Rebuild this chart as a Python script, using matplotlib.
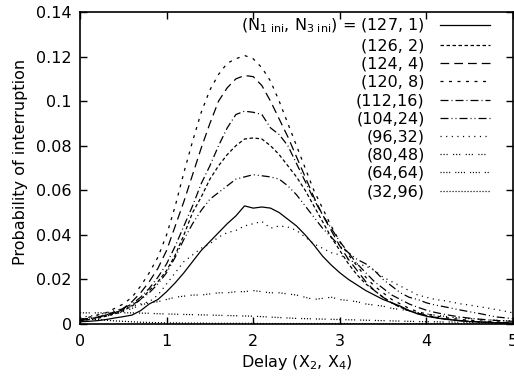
import numpy as np
import matplotlib
matplotlib.use("Agg")
import matplotlib.pyplot as plt

plt.rcParams['font.family'] = ['DejaVu Sans']
plt.rcParams['mathtext.fontset'] = 'dejavusans'

FS = 11.5

delay = np.round(np.arange(0, 5.01, 0.1), 1)

labels = ["(N$_{1\\ \\mathrm{ini}}$, N$_{3\\ \\mathrm{ini}}$) = (127, 1)", "(126, 2)", "(124, 4)", "(120, 8)",
          "(112,16)", "(104,24)", "(96,32)", "(80,48)", "(64,64)", "(32,96)"]

p127_1 = [0.0010, 0.0012, 0.0015, 0.0020, 0.0027, 0.0033, 0.0040, 0.0060, 0.0090, 0.0110,
          0.0145, 0.0185, 0.0230, 0.0280, 0.0330, 0.0370, 0.0410, 0.0450, 0.0485, 0.0530,
          0.0520, 0.0525, 0.0520, 0.0500, 0.0470, 0.0440, 0.0400, 0.0355, 0.0305, 0.0265,
          0.0230, 0.0200, 0.0175, 0.0150, 0.0130, 0.0110, 0.0095, 0.0080, 0.0060, 0.0045,
          0.0035, 0.0028, 0.0022, 0.0018, 0.0014, 0.0011, 0.0009, 0.0007, 0.0005, 0.0004, 0.0003]
p126_2 = [0.0015, 0.0020, 0.0025, 0.0035, 0.0045, 0.0060, 0.0080, 0.0110, 0.0150, 0.0190,
          0.0240, 0.0310, 0.0400, 0.0500, 0.0570, 0.0650, 0.0710, 0.0760, 0.0800, 0.0830,
          0.0835, 0.0830, 0.0800, 0.0760, 0.0710, 0.0660, 0.0600, 0.0530, 0.0460, 0.0390,
          0.0330, 0.0270, 0.0220, 0.0180, 0.0150, 0.0120, 0.0095, 0.0075, 0.0060, 0.0048,
          0.0038, 0.0030, 0.0024, 0.0019, 0.0015, 0.0012, 0.0010, 0.0008, 0.0006, 0.0005, 0.0004]
p124_4 = [0.0015, 0.0020, 0.0030, 0.0040, 0.0055, 0.0070, 0.0100, 0.0140, 0.0190, 0.0250,
          0.0330, 0.0440, 0.0550, 0.0670, 0.0790, 0.0900, 0.1000, 0.1060, 0.1100, 0.1115,
          0.1110, 0.1070, 0.1000, 0.0920, 0.0840, 0.0750, 0.0660, 0.0570, 0.0490, 0.0420,
          0.0350, 0.0290, 0.0240, 0.0190, 0.0150, 0.0120, 0.0095, 0.0075, 0.0060, 0.0048,
          0.0038, 0.0030, 0.0024, 0.0019, 0.0015, 0.0012, 0.0010, 0.0008, 0.0007, 0.0006, 0.0005]
p120_8 = [0.0020, 0.0030, 0.0040, 0.0050, 0.0070, 0.0090, 0.0120, 0.0170, 0.0230, 0.0300,
          0.0400, 0.0530, 0.0680, 0.0820, 0.0950, 0.1050, 0.1120, 0.1170, 0.1190, 0.1205,
          0.1190, 0.1150, 0.1090, 0.1000, 0.0900, 0.0800, 0.0700, 0.0600, 0.0520, 0.0440,
          0.0370, 0.0310, 0.0260, 0.0210, 0.0170, 0.0140, 0.0110, 0.0090, 0.0070, 0.0055,
          0.0045, 0.0037, 0.0030, 0.0025, 0.0020, 0.0017, 0.0014, 0.0012, 0.0010, 0.0008, 0.0007]
p112_16 = [0.0020, 0.0025, 0.0030, 0.0040, 0.0050, 0.0070, 0.0090, 0.0120, 0.0160, 0.0210,
           0.0270, 0.0350, 0.0440, 0.0530, 0.0630, 0.0710, 0.0800, 0.0880, 0.0940, 0.0955,
           0.0950, 0.0940, 0.0880, 0.0850, 0.0800, 0.0720, 0.0640, 0.0560, 0.0490, 0.0430,
           0.0370, 0.0320, 0.0270, 0.0230, 0.0190, 0.0160, 0.0130, 0.0110, 0.0090, 0.0075,
           0.0062, 0.0052, 0.0044, 0.0037, 0.0031, 0.0026, 0.0022, 0.0019, 0.0016, 0.0014, 0.0012]
p104_24 = [0.0020, 0.0025, 0.0030, 0.0040, 0.0050, 0.0065, 0.0085, 0.0110, 0.0140, 0.0180,
           0.0230, 0.0300, 0.0380, 0.0450, 0.0510, 0.0560, 0.0590, 0.0620, 0.0650, 0.0660,
           0.0670, 0.0665, 0.0660, 0.0650, 0.0620, 0.0580, 0.0530, 0.0480, 0.0430, 0.0390,
           0.0350, 0.0320, 0.0290, 0.0270, 0.0240, 0.0200, 0.0170, 0.0140, 0.0120, 0.0110,
           0.0095, 0.0085, 0.0078, 0.0070, 0.0062, 0.0055, 0.0048, 0.0040, 0.0032, 0.0028, 0.0024]
p96_32 = [0.0030, 0.0035, 0.0040, 0.0050, 0.0060, 0.0070, 0.0080, 0.0090, 0.0100, 0.0130,
          0.0180, 0.0230, 0.0280, 0.0310, 0.0340, 0.0360, 0.0390, 0.0410, 0.0420, 0.0440,
          0.0450, 0.0460, 0.0430, 0.0440, 0.0435, 0.0420, 0.0390, 0.0360, 0.0340, 0.0320,
          0.0310, 0.0290, 0.0270, 0.0260, 0.0240, 0.0210, 0.0190, 0.0170, 0.0150, 0.0130,
          0.0120, 0.0110, 0.0105, 0.0098, 0.0090, 0.0085, 0.0078, 0.0072, 0.0065, 0.0058, 0.0050]
p80_48 = [0.0020, 0.0025, 0.0030, 0.0035, 0.0045, 0.0055, 0.0070, 0.0085, 0.0095, 0.0100,
          0.0110, 0.0120, 0.0125, 0.0130, 0.0130, 0.0135, 0.0140, 0.0140, 0.0145, 0.0145,
          0.0150, 0.0145, 0.0140, 0.0140, 0.0135, 0.0130, 0.0120, 0.0110, 0.0115, 0.0120,
          0.0110, 0.0105, 0.0100, 0.0090, 0.0085, 0.0080, 0.0070, 0.0065, 0.0060, 0.0050,
          0.0045, 0.0040, 0.0035, 0.0030, 0.0027, 0.0024, 0.0021, 0.0019, 0.0017, 0.0015, 0.0013]
p64_64 = [0.0050, 0.0050, 0.0050, 0.0050, 0.0050, 0.0050, 0.0050, 0.0049, 0.0048, 0.0046,
          0.0045, 0.0044, 0.0043, 0.0042, 0.0041, 0.0040, 0.0039, 0.0038, 0.0037, 0.0036,
          0.0035, 0.0033, 0.0031, 0.0029, 0.0027, 0.0025, 0.0024, 0.0023, 0.0022, 0.0021,
          0.0020, 0.0019, 0.0018, 0.0017, 0.0016, 0.0015, 0.0014, 0.0013, 0.0012, 0.0011,
          0.0010, 0.0010, 0.0009, 0.0009, 0.0008, 0.0008, 0.0007, 0.0007, 0.0006, 0.0006, 0.0006]
p32_96 = [0.0025, 0.0022, 0.0020, 0.0017, 0.0014, 0.0012, 0.0010, 0.0008, 0.0007, 0.0006,
          0.0005, 0.0005, 0.0004, 0.0004, 0.0004, 0.0003, 0.0003, 0.0003, 0.0003, 0.0003,
          0.0003, 0.0002, 0.0002, 0.0002, 0.0002, 0.0002, 0.0002, 0.0002, 0.0002, 0.0002,
          0.0002, 0.0002, 0.0001, 0.0001, 0.0001, 0.0001, 0.0001, 0.0001, 0.0001, 0.0001,
          0.0001, 0.0001, 0.0001, 0.0001, 0.0001, 0.0001, 0.0001, 0.0001, 0.0001, 0.0001, 0.0001]

series = [p127_1, p126_2, p124_4, p120_8, p112_16, p104_24, p96_32, p80_48, p64_64, p32_96]

dashes = [None, (2.8, 2.0), (7, 4), (2.4, 4.4), (6.4, 2.4, 0.8, 2.4), (6.4, 2.4, 0.8, 2.4, 0.8, 2.4),
          (0.9, 3.6), (0.9, 1.5, 0.9, 1.5, 0.9, 4.4), (0.9, 1.4, 0.9, 1.4, 0.9, 1.4, 0.9, 4.0), (0.9, 1.5)]

xticks = [0, 1, 2, 3, 4, 5]
yticks = [0, 0.02, 0.04, 0.06, 0.08, 0.1, 0.12, 0.14]
yticklabels = ["0", "0.02", "0.04", "0.06", "0.08", "0.1", "0.12", "0.14"]

fig = plt.figure(figsize=(5.14, 3.77), dpi=100)
ax = fig.add_axes([80/514, 53/377, 433/514, 312/377])

for vals, lab, d in zip(series, labels, dashes):
    line, = ax.plot(delay, vals, color='black', lw=0.9, label=lab)
    if d is not None:
        line.set_dashes(d)

ax.set_xlim(0, 5)
ax.set_ylim(0, 0.14)
ax.set_xticks(xticks)
ax.set_xticklabels([str(t) for t in xticks])
ax.set_yticks(yticks)
ax.set_yticklabels(yticklabels)
ax.tick_params(direction='in', top=True, right=True, length=5, width=1, labelsize=FS)
ax.tick_params(axis='x', pad=7)
ax.tick_params(axis='y', pad=6)
for s in ax.spines.values():
    s.set_linewidth(1.2)
ax.set_xlabel("Delay (X$_2$, X$_4$)", fontsize=FS)
ax.set_ylabel("Probability of interruption", fontsize=FS)
ax.xaxis.set_label_coords(0.5, -(363 - 324) / 312, transform=ax.transAxes)
ax.yaxis.set_label_coords(-(80 - 20) / 433, (324 - 162) / 312, transform=ax.transAxes)
ax.xaxis.label.set_va('center')
ax.yaxis.label.set_va('center')

leg = ax.legend(loc='upper right', bbox_to_anchor=((490 - 80) / 433, 1 - (17 - 12) / 312),
                frameon=False, markerfirst=False, fontsize=FS, handlelength=3.1,
                handletextpad=1.0, labelspacing=0.2, borderaxespad=0, borderpad=0)

fig.savefig("out.png", dpi=100)
